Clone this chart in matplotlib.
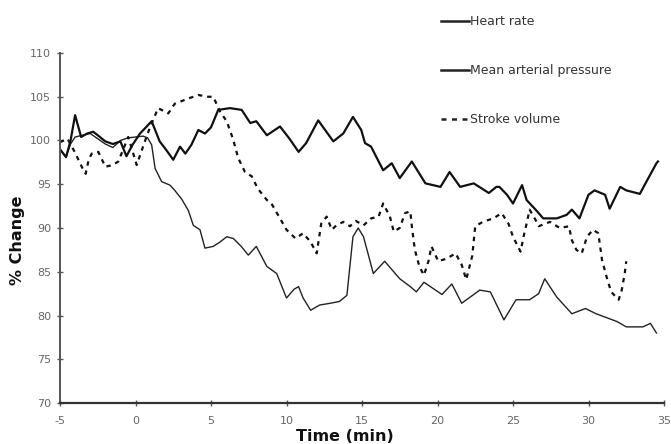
import matplotlib
matplotlib.use("Agg")
import matplotlib.pyplot as plt

# ---- data ----
map_x = [-5.0, -4.6, -4.3, -4.0, -3.6, -3.2, -2.8, -2.5, -2.0, -1.5, -1.0, -0.6, -0.2, 0.3, 0.74,
         1.07, 1.6, 2.0, 2.5, 2.95, 3.3, 3.7, 4.16, 4.6, 5.0, 5.48, 6.26, 7.03, 7.6, 8.0, 8.7,
         9.57, 10.2, 10.8, 11.3, 12.1, 13.1, 13.76, 14.4, 14.95, 15.2, 15.6, 16.4, 16.97, 17.5,
         18.3, 19.2, 20.2, 20.8, 21.5, 22.4, 23.4, 23.9, 24.1, 24.6, 25.0, 25.6, 25.9, 26.6,
         27.0, 27.9, 28.55, 28.9, 29.4, 30.0, 30.4, 31.1, 31.4, 32.1, 32.5, 33.4, 33.9, 34.5, 34.6]
map_y = [99.0, 98.1, 100.0, 102.9, 100.4, 100.8, 101.0, 100.6, 99.9, 99.6, 99.9, 98.2, 99.5, 100.8, 101.6,
         102.2, 99.9, 99.0, 97.8, 99.3, 98.5, 99.5, 101.2, 100.8, 101.5, 103.5, 103.7, 103.5, 102.0, 102.2, 100.6,
         101.6, 100.2, 98.7, 99.7, 102.3, 99.9, 100.8, 102.7, 101.2, 99.7, 99.3, 96.6, 97.4, 95.7,
         97.6, 95.1, 94.7, 96.4, 94.7, 95.1, 94.0, 94.7, 94.7, 93.8, 92.8, 94.9, 93.2, 91.9,
         91.1, 91.1, 91.5, 92.1, 91.1, 93.8, 94.3, 93.8, 92.2, 94.7, 94.3, 93.9, 95.5, 97.4, 97.6]

hr_x = [-5.0, -4.6, -4.3, -4.0, -3.5, -3.0, -2.5, -2.0, -1.5, -1.0, -0.5, 0.0, 0.5, 0.8, 1.07,
        1.3, 1.73, 2.28, 2.6, 3.06, 3.5, 3.83, 4.27, 4.6, 5.15, 5.6, 6.04, 6.48, 7.0, 7.47, 8.0,
        8.7, 9.35, 10.0, 10.5, 10.8, 11.1, 11.6, 12.2, 12.9, 13.5, 14.0, 14.4, 14.75, 15.1, 15.75,
        16.5, 17.1, 17.5, 18.2, 18.6, 19.1, 20.3, 20.95, 21.6, 22.8, 23.5, 24.4, 25.2, 26.1,
        26.7, 27.1, 27.9, 28.9, 29.8, 30.5, 31.9, 32.5, 33.6, 34.1, 34.5]
hr_y = [99.0, 98.1, 99.6, 100.4, 100.6, 100.8, 100.2, 99.6, 99.2, 100.0, 100.3, 100.4, 100.5, 100.3, 99.5,
        96.8, 95.3, 94.9, 94.3, 93.3, 92.0, 90.3, 89.8, 87.7, 87.9, 88.4, 89.0, 88.8, 87.9, 86.9, 87.9,
        85.6, 84.8, 82.0, 83.0, 83.3, 82.0, 80.6, 81.2, 81.4, 81.6, 82.3, 89.0, 90.0, 89.0, 84.8,
        86.2, 85.0, 84.2, 83.3, 82.7, 83.8, 82.4, 83.6, 81.4, 82.9, 82.7, 79.5, 81.8, 81.8,
        82.5, 84.2, 82.1, 80.2, 80.8, 80.2, 79.3, 78.7, 78.7, 79.1, 78.0]

sv_x = [-5.0, -4.5, -4.0, -3.56, -3.3, -3.1, -2.9, -2.46, -2.0, -1.5, -1.14, -0.48, 0.08, 0.5,
        0.85, 1.2, 1.5, 2.17, 2.6, 3.5, 4.16, 4.8, 5.15, 5.6, 6.04, 6.37, 6.6, 6.8, 7.25, 7.7,
        8.1, 8.7, 9.0, 9.57, 10.0, 10.6, 11.1, 11.6, 12.0, 12.3, 12.66, 13.0, 13.3, 13.76, 14.2,
        14.6, 15.1, 15.6, 16.1, 16.4, 16.85, 17.1, 17.5, 17.85, 18.2, 18.3, 18.5, 18.8, 19.1,
        19.4, 19.6, 20.05, 20.6, 21.2, 21.6, 21.9, 22.3, 22.5, 23.0, 23.7, 24.25, 24.7, 25.0,
        25.5, 25.7, 25.9, 26.1, 26.5, 26.7, 27.45, 28.1, 28.7, 28.9, 29.2, 29.55, 29.9, 30.3,
        30.65, 30.9, 31.2, 31.5, 32.0, 32.2, 32.4, 32.5]
sv_y = [99.8, 100.2, 98.6, 97.0, 96.2, 97.8, 98.5, 98.7, 97.0, 97.2, 97.6, 100.4, 97.2, 99.3,
        101.0, 102.5, 103.7, 103.1, 104.2, 104.8, 105.2, 105.0, 105.0, 103.3, 102.2, 100.6, 99.3, 98.0, 96.4, 95.9,
        94.5, 93.2, 92.8, 91.1, 89.8, 88.8, 89.4, 88.4, 87.1, 90.5, 91.3, 89.8, 90.3, 90.7, 90.2,
        90.8, 90.3, 91.1, 91.3, 92.8, 91.3, 89.6, 90.0, 91.7, 91.9, 90.2, 87.5, 85.6, 84.6,
        86.2, 87.9, 86.2, 86.5, 87.1, 85.8, 84.1, 86.8, 90.2, 90.7, 91.1, 91.7, 90.5, 89.0,
        87.3, 89.0, 90.5, 92.1, 90.9, 90.2, 90.7, 90.0, 90.2, 88.6, 87.5, 87.1, 89.0, 89.8,
        89.4, 86.3, 84.4, 82.7, 81.8, 82.9, 84.8, 86.2]

labels = ["Heart rate", "Mean arterial pressure", "Stroke volume"]
x_ticks = [-5, 0, 5, 10, 15, 20, 25, 30, 35]
y_ticks = [70, 75, 80, 85, 90, 95, 100, 105, 110]

# ---- figure ----
W, H = 671, 444
fig = plt.figure(figsize=(W / 100, H / 100), dpi=100)
ax = fig.add_axes([60 / W, 1 - 403 / H, (664 - 60) / W, (403 - 53) / H])

l_hr, = ax.plot(hr_x, hr_y, color="#222222", lw=1.0, solid_joinstyle="round")
l_map, = ax.plot(map_x, map_y, color="#111111", lw=1.6, solid_joinstyle="round")
l_sv, = ax.plot(sv_x, sv_y, color="#111111", lw=1.6, linestyle=(0, (2.0, 2.2)))

ax.set_xlim(-5, 35)
ax.set_ylim(70, 110)
ax.set_xticks(x_ticks)
ax.set_yticks(y_ticks)
ax.set_xticklabels([str(t) for t in x_ticks])
ax.set_yticklabels([str(t) for t in y_ticks])

for s in ["top", "right"]:
    ax.spines[s].set_visible(False)
ax.spines["left"].set_color("#555555")
ax.spines["left"].set_linewidth(1.4)
ax.spines["bottom"].set_color("#333333")
ax.spines["bottom"].set_linewidth(1.6)

ax.tick_params(axis="both", direction="inout", length=5, width=1.0, color="#555555",
               labelsize=8, labelcolor="#666666")
ax.tick_params(axis="x", pad=7)
ax.tick_params(axis="y", pad=4)

fig.text(345 / W, 1 - 436 / H, "Time (min)", ha="center", va="center",
         fontsize=11.5, fontweight="bold", color="#111111")
fig.text(18 / W, 1 - 240 / H, "% Change", ha="center", va="center", rotation=90,
         fontsize=11.5, fontweight="bold", color="#111111")

leg = fig.legend([l_hr, l_map, l_sv], labels, loc="upper left",
                 bbox_to_anchor=(441 / W, 1 - 15 / H), frameon=False,
                 fontsize=9, handlelength=2.2, handletextpad=0.15,
                 labelspacing=2.9, borderpad=0, borderaxespad=0)
for t in leg.get_texts():
    t.set_color("#333333")
for h in leg.legend_handles:
    h.set_linewidth(1.8)
    h.set_color("#222222")

fig.savefig("out.png", dpi=100)
